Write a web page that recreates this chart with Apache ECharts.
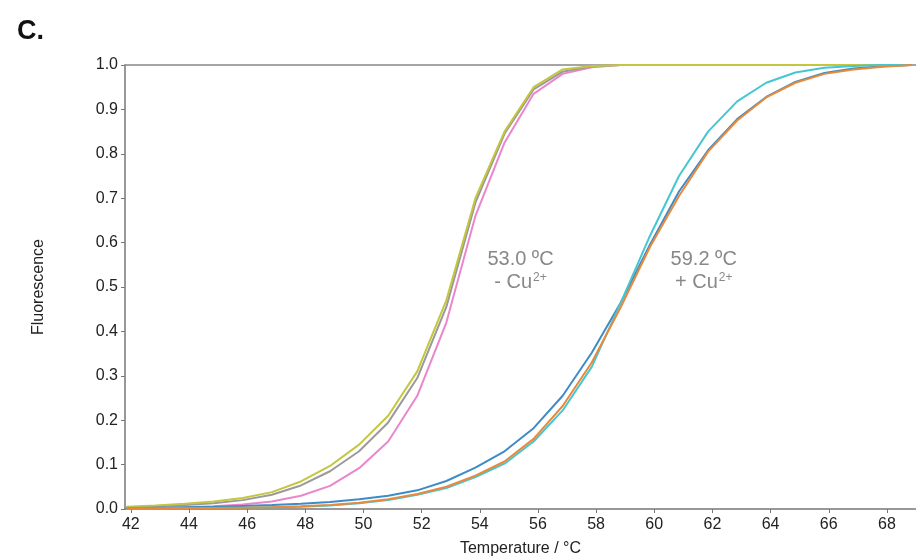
<!DOCTYPE html>
<html><head><meta charset="utf-8">
<script src="https://cdn.jsdelivr.net/npm/echarts@6/dist/echarts.min.js"></script>
<style>html,body{margin:0;padding:0;background:#fff}#c{width:916px;height:558px}</style>
</head><body><div id="c"></div>
<script>
const temps = [41.85,42.85,43.85,44.85,45.85,46.85,47.85,48.85,49.85,50.85,51.85,52.85,53.85,54.85,55.85,56.85,57.85,58.85,59.85,60.85,61.85,62.85,63.85,64.85,65.85,66.85,67.85,68.85];
const yellowVals = [0.005,0.008,0.012,0.017,0.025,0.038,0.062,0.097,0.145,0.21,0.31,0.47,0.70,0.85,0.95,0.99,0.998,1,1,1,1,1,1,1,1,1,1,1];
const greyVals   = [0.004,0.006,0.009,0.013,0.02,0.032,0.053,0.085,0.13,0.195,0.295,0.455,0.69,0.845,0.945,0.985,0.997,1,1,1,1,1,1,1,1,1,1,1];
const pinkVals   = [0.002,0.003,0.004,0.006,0.01,0.017,0.03,0.052,0.092,0.152,0.255,0.42,0.66,0.825,0.935,0.98,0.995,1,1,1,1,1,1,1,1,1,1,1];
const blueVals   = [0.002,0.003,0.004,0.005,0.007,0.009,0.012,0.016,0.022,0.03,0.042,0.063,0.093,0.13,0.182,0.255,0.352,0.465,0.595,0.715,0.808,0.878,0.928,0.962,0.982,0.992,0.997,1];
const orangeVals = [0.001,0.001,0.002,0.002,0.003,0.004,0.006,0.009,0.014,0.022,0.034,0.05,0.075,0.107,0.158,0.232,0.33,0.455,0.59,0.705,0.805,0.875,0.927,0.96,0.98,0.99,0.996,1];
const cyanVals   = [0.001,0.001,0.002,0.002,0.003,0.004,0.005,0.008,0.013,0.02,0.032,0.047,0.072,0.102,0.152,0.222,0.32,0.465,0.615,0.75,0.85,0.918,0.96,0.983,0.994,0.998,1,1];
const xTicks = [42,44,46,48,50,52,54,56,58,60,62,64,66,68];
const annotations = [
  {x: 55.4, y: 0.535, temp: '53.0 ºC', sign: '- Cu'},
  {x: 61.7, y: 0.535, temp: '59.2 ºC', sign: '+ Cu'}
];

const chart = echarts.init(document.getElementById('c'));
const font = '"Liberation Sans", Arial, sans-serif';
function mk(name, vals, color){
  return {name, type:'line', showSymbol:false, animation:false,
    data: temps.map((t,i)=>[t, vals[i]]),
    lineStyle:{color, width:2}, itemStyle:{color}};
}
chart.setOption({
  animation:false,
  title:{text:'C.', left:12, top:13, textStyle:{fontFamily:font, fontSize:27, fontWeight:'bold', color:'#111'}},
  grid:{left:125, right:0, top:65, bottom:49, outerBoundsMode:'none', containLabel:false},
  xAxis:[{
    type:'value', min:41.8, max:69,
    name:'Temperature / °C', nameLocation:'middle', nameGap:32,
    nameTextStyle:{fontFamily:font, fontSize:16, color:'#222'},
    axisLine:{lineStyle:{color:'#777', width:1.5}},
    axisTick:{customValues:xTicks, length:4, lineStyle:{color:'#777'}},
    axisLabel:{customValues:xTicks, fontFamily:font, fontSize:16, color:'#222', margin:8},
    splitLine:{show:false}
  },{
    type:'value', position:'top', min:41.8, max:69,
    axisLine:{lineStyle:{color:'#888', width:1.5}},
    axisTick:{show:false}, axisLabel:{show:false}, splitLine:{show:false}
  }],
  yAxis:{
    type:'value', min:0, max:1, interval:0.1,
    name:'Fluorescence', nameLocation:'middle', nameGap:78, nameRotate:90,
    nameTextStyle:{fontFamily:font, fontSize:16, color:'#222'},
    axisLine:{show:true, lineStyle:{color:'#777', width:1.5}},
    axisTick:{show:true, length:4, lineStyle:{color:'#777'}},
    axisLabel:{fontFamily:font, fontSize:16, color:'#222', margin:7, formatter:v=>v.toFixed(1)},
    splitLine:{show:false}
  },
  series:[
    mk('pink', pinkVals, '#ea86cc'),
    mk('grey', greyVals, '#9a9a9a'),
    mk('yellow', yellowVals, '#c4c640'),
    mk('blue', blueVals, '#3d8cc6'),
    mk('cyan', cyanVals, '#45c6d2'),
    mk('orange', orangeVals, '#e8893c')
  ]
});
const g = annotations.map(a=>{
  const p = chart.convertToPixel({xAxisIndex:0, yAxisIndex:0}, [a.x, a.y]);
  return {type:'text', x:p[0], y:p[1], style:{
    text:'{t|'+a.temp+'}\n{c|'+a.sign+'}{s|2+}',
    align:'center', verticalAlign:'middle', fill:'#888',
    rich:{
      t:{fontFamily:font, fontSize:20, fill:'#888', lineHeight:23, align:'center'},
      c:{fontFamily:font, fontSize:20, fill:'#888', lineHeight:23},
      s:{fontFamily:font, fontSize:12, fill:'#888', verticalAlign:'top', lineHeight:23, padding:[0,0,8,1]}
    }
  }};
});
chart.setOption({graphic:g});
</script></body></html>
